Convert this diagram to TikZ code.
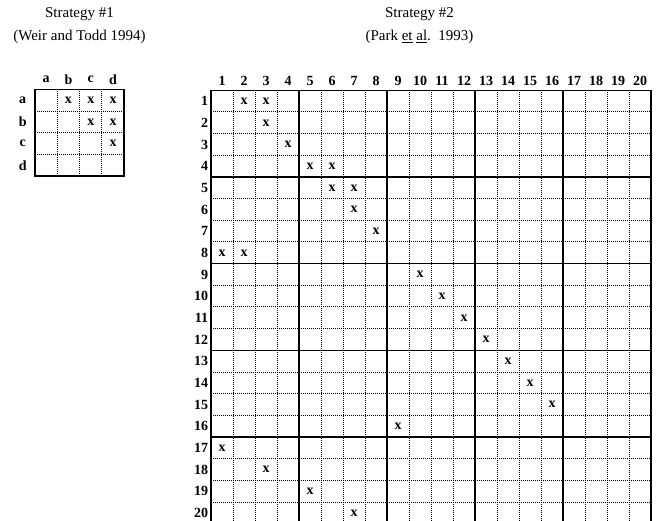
\documentclass[tikz,border=0pt]{standalone}
\usepackage{fontspec}
\setmainfont{Liberation Serif}
\usetikzlibrary{positioning}

\begin{document}
\begin{tikzpicture}[
  x=1pt, y=-1pt,
  thickline/.style={line width=1.5pt},
  dotline/.style={line width=1pt, densely dotted},
  title/.style={font=\fontsize{15}{15}\selectfont, inner sep=0pt},
  lbl/.style={font=\fontsize{14}{14}\selectfont\bfseries, inner sep=0pt},
  xmark/.style={font=\fontsize{14}{14}\selectfont\bfseries, inner sep=0pt},
]
\useasboundingbox (0,0) rectangle (657,521);

% titles
\node[title] (title1) at (79.5,14) {Strategy \#1};
\node[title, below=9pt of title1] (src1) {(Weir and Todd 1994)};
\node[title] (title2) at (419.5,14) {Strategy \#2};
\node[title, below=9pt of title2] (src2) {(Park \underline{et} \underline{al}.\ \ 1993)};

% strategy 1 grid
\begin{scope}[shift={(35,89.5)}, x=22.3pt, y=-21.67pt]
  \foreach \i in {1,2,3} {
    \draw[dotline] (\i,0) -- (\i,4);
    \draw[dotline] (0,\i) -- (4,\i);
  }
  \draw[thickline] (0,0) rectangle (4,4);
  \foreach \c [count=\i] in {a,b,c,d} {
    \node[lbl] (scol\c) at (\i-0.5,-0.45) {\c};
    \node[lbl] (srow\c) at (-0.55,\i-0.5) {\c};
  }
  \foreach \r/\c in {1/2,1/3,1/4,2/3,2/4,3/4}
    \node[xmark] (sx\r\c) at (\c-0.5,\r-0.5) {x};
\end{scope}

% strategy 2 grid
\begin{scope}[shift={(211,90.3)}, x=22pt, y=-21.67pt]
  \foreach \i in {1,...,19} {
    \draw[dotline] (\i,0) -- (\i,20);
    \draw[dotline] (0,\i) -- (20,\i);
  }
  \foreach \i in {4,8,12,16} {
    \draw[thickline] (\i,0) -- (\i,20);
    \draw[thickline] (0,\i) -- (20,\i);
  }
  \draw[thickline] (0,0) rectangle (20,20);
  \foreach \i in {1,...,20} {
    \node[lbl] (bcol\i) at (\i-0.5,-0.45) {\i};
    \node[lbl, anchor=east] (brow\i) at (-0.12,\i-0.5) {\i};
  }
  \foreach \r/\c in {1/2,1/3,2/3,3/4,4/5,4/6,5/6,5/7,6/7,7/8,8/1,8/2,
                     9/10,10/11,11/12,12/13,13/14,14/15,15/16,16/9,
                     17/1,18/3,19/5,20/7}
    \node[xmark] (bx\r-\c) at (\c-0.5,\r-0.5) {x};
\end{scope}
\end{tikzpicture}
\end{document}
